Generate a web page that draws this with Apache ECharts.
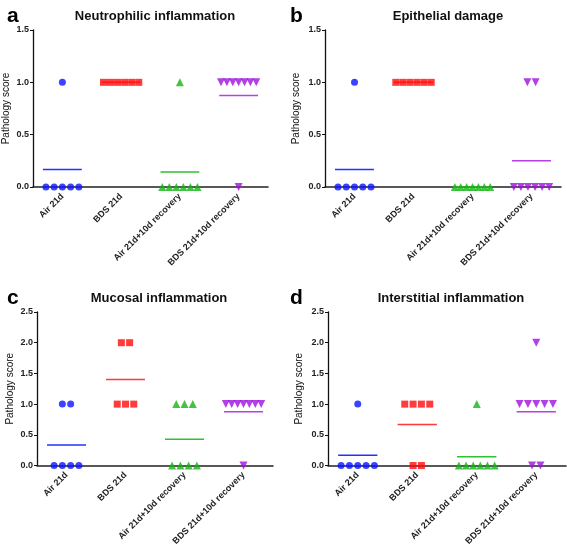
<!DOCTYPE html>
<html><head><meta charset="utf-8">
<script src="https://cdn.jsdelivr.net/npm/echarts@6/dist/echarts.min.js"></script>
<style>html,body{margin:0;padding:0;background:#fff}#c{width:567px;height:548px}</style>
</head><body><div id="c"></div>
<script>
var categories = ['Air 21d', 'BDS 21d', 'Air 21d+10d recovery', 'BDS 21d+10d recovery'];
var panelLetters = ['a', 'b', 'c', 'd'];
var panelTitles = ['Neutrophilic inflammation', 'Epithelial damage', 'Mucosal inflammation', 'Interstitial inflammation'];
var yMax = [1.5, 1.5, 2.5, 2.5];
var yTicks = [0, 0.5, 1.0, 1.5, 2.0, 2.5];

// individual scores per group
var neutroAir = [1, 0, 0, 0, 0, 0];
var neutroBDS = [1, 1, 1, 1, 1, 1];
var neutroAirRec = [1, 0, 0, 0, 0, 0, 0];
var neutroBDSRec = [1, 1, 1, 1, 1, 1, 1, 0];

var epiAir = [1, 0, 0, 0, 0, 0];
var epiBDS = [1, 1, 1, 1, 1, 1];
var epiAirRec = [0, 0, 0, 0, 0, 0, 0];
var epiBDSRec = [1, 1, 0, 0, 0, 0, 0, 0];

var mucAir = [1, 1, 0, 0, 0, 0];
var mucBDS = [2, 2, 1, 1, 1];
var mucAirRec = [1, 1, 1, 0, 0, 0, 0];
var mucBDSRec = [1, 1, 1, 1, 1, 1, 1, 0];

var intAir = [1, 0, 0, 0, 0, 0];
var intBDS = [1, 1, 1, 1, 0, 0];
var intAirRec = [1, 0, 0, 0, 0, 0, 0];
var intBDSRec = [2, 1, 1, 1, 1, 1, 0, 0];

var panels = [
  [neutroAir, neutroBDS, neutroAirRec, neutroBDSRec],
  [epiAir, epiBDS, epiAirRec, epiBDSRec],
  [mucAir, mucBDS, mucAirRec, mucBDSRec],
  [intAir, intBDS, intAirRec, intBDSRec]
];

var pointColors = ['#0a14ff', '#ff0a0a', '#14b414', '#a010e0'];
var lineColors = ['#2430ff', '#ff3a3a', '#30c030', '#b640e6'];
var symbols = ['circle', 'rect', 'triangle', 'triangle'];
var rotations = [0, 0, 0, 180];

var grids = [
  {left: 31, top: 30, width: 237, height: 157},
  {left: 325, top: 30, width: 236, height: 157},
  {left: 37, top: 312, width: 236, height: 157},
  {left: 328, top: 312, width: 238, height: 157}
];
var titlePos = [
  {x: 150, y: 5, lx: 2, ly: 1},
  {x: 443, y: 5, lx: 285, ly: 1},
  {x: 154, y: 287, lx: 2, ly: 283},
  {x: 446, y: 287, lx: 285, ly: 283}
];

var font = 'Liberation Sans, Arial, sans-serif';
var option = {
  animation: false,
  backgroundColor: '#fff',
  title: [], grid: [], xAxis: [], yAxis: [], series: []
};

function mean(a) { var s = 0; a.forEach(function (v) { s += v; }); return s / a.length; }

panels.forEach(function (groups, p) {
  var g = grids[p];
  option.grid.push({left: g.left, top: g.top, width: g.width, height: g.height, containLabel: false});
  option.title.push({text: panelTitles[p], left: titlePos[p].x, top: titlePos[p].y, textAlign: 'center',
    textStyle: {fontFamily: font, fontSize: 13, fontWeight: 'bold', color: '#111'}});
  option.title.push({text: panelLetters[p], left: titlePos[p].lx, top: titlePos[p].ly,
    textStyle: {fontFamily: font, fontSize: 21, fontWeight: 'bold', color: '#000'}});
  // category axis (labels)
  option.xAxis.push({
    type: 'category', gridIndex: p, data: categories, boundaryGap: true,
    axisLine: {onZero: false, lineStyle: {color: '#222', width: 1.6}},
    axisTick: {alignWithLabel: true, length: 2, lineStyle: {color: '#000', width: 1.5}},
    axisLabel: {rotate: 45, interval: 0, margin: 8, fontFamily: font, fontSize: 9, fontWeight: 'bold', color: '#222'},
    splitLine: {show: false}
  });
  // hidden value axis for spread points
  option.xAxis.push({type: 'value', gridIndex: p, min: -0.5, max: 3.5, show: false});
  option.yAxis.push({
    type: 'value', gridIndex: p, min: 0, max: yMax[p], interval: 0.5,
    name: 'Pathology score', nameLocation: 'middle', nameGap: (p % 2 === 0 ? 22 : 24),
    nameTextStyle: {fontFamily: font, fontSize: 10, color: '#111'},
    axisLine: {show: true, onZero: false, lineStyle: {color: '#111', width: 1.3}},
    axisTick: {show: true, length: 3, lineStyle: {color: '#111'}},
    axisLabel: {margin: 4, fontFamily: font, fontSize: 9, fontWeight: 'bold', color: '#222',
      formatter: function (v) { return v.toFixed(1); }},
    splitLine: {show: false}
  });
  var xv = p * 2 + 1;
  groups.forEach(function (vals, i) {
    var m = mean(vals);
    option.series.push({
      type: 'line', xAxisIndex: xv, yAxisIndex: p, symbol: 'none', silent: true, z: 2,
      lineStyle: {color: lineColors[i], width: 1.5},
      data: [[i - 0.33, m], [i + 0.33, m]]
    });
    var byVal = {};
    vals.forEach(function (v) { (byVal[v] = byVal[v] || []).push(v); });
    var pts = [];
    Object.keys(byVal).forEach(function (k) {
      var n = byVal[k].length;
      var step = n > 1 ? Math.min(0.14, 0.6 / (n - 1)) : 0;
      for (var j = 0; j < n; j++) pts.push([i + (j - (n - 1) / 2) * step, +k]);
    });
    option.series.push({
      type: 'scatter', xAxisIndex: xv, yAxisIndex: p, z: 5,
      symbol: symbols[i], symbolRotate: rotations[i], symbolSize: i <= 1 ? 7 : 8,
      itemStyle: {color: pointColors[i]}, data: pts
    });
  });
});

var chart = echarts.init(document.getElementById('c'), null, {renderer: 'canvas'});
chart.setOption(option);
</script></body></html>
